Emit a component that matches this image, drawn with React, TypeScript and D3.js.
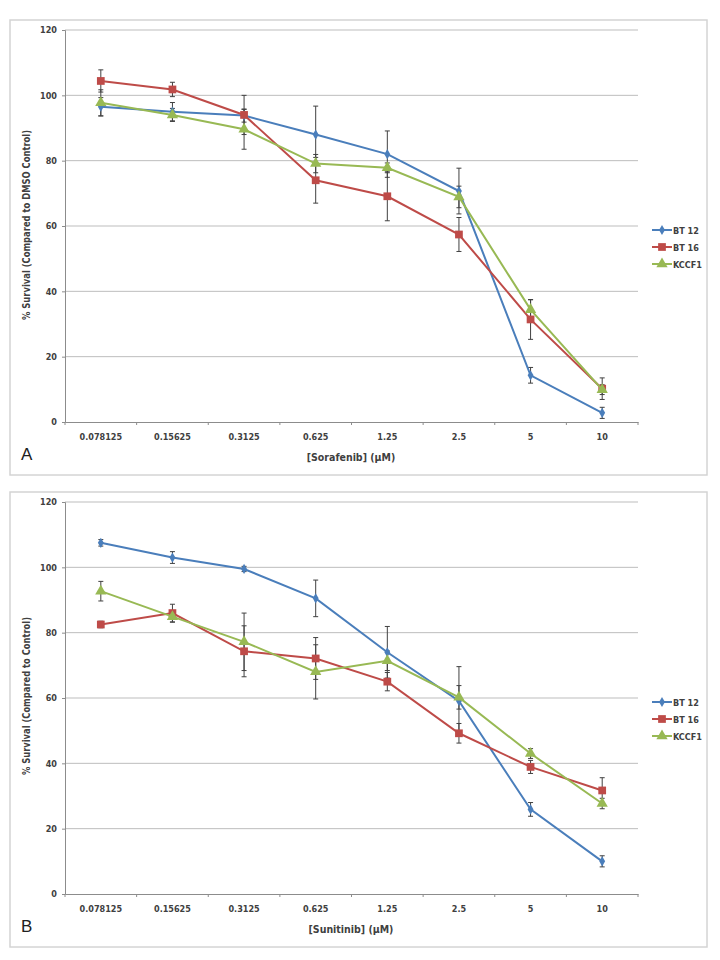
import React, { useRef, useEffect } from "react";
import * as d3 from "d3";

const doses = ["0.078125", "0.15625", "0.3125", "0.625", "1.25", "2.5", "5", "10"];
const seriesNames = ["BT 12", "BT 16", "KCCF1"];
const yTicks = [0, 20, 40, 60, 80, 100, 120];

// panel A - sorafenib
const sorafBT12 = [96.5, 95.0, 93.8, 88.0, 82.0, 70.7, 14.3, 2.8];
const sorafBT12Err = [2.8, 2.8, 2.0, 8.7, 7.1, 7.0, 2.4, 1.7];
const sorafBT16 = [104.4, 101.8, 94.0, 74.0, 69.1, 57.4, 31.4, 10.2];
const sorafBT16Err = [3.4, 2.2, 6.0, 7.0, 7.5, 5.2, 6.1, 3.3];
const sorafKCCF1 = [97.7, 94.0, 89.6, 79.1, 77.8, 68.9, 34.4, 9.9];
const sorafKCCF1Err = [4.0, 2.0, 6.1, 2.8, 1.5, 3.3, 3.0, 1.5];

// panel B - sunitinib
const sunitBT12 = [107.5, 103.0, 99.5, 90.5, 74.0, 59.1, 25.9, 10.0];
const sunitBT12Err = [1.0, 1.8, 0.8, 5.6, 7.9, 10.5, 2.1, 1.7];
const sunitBT16 = [82.5, 86.0, 74.3, 72.1, 65.0, 49.2, 38.9, 31.7];
const sunitBT16Err = [1.0, 2.7, 7.8, 6.4, 2.8, 3.0, 2.0, 3.9];
const sunitKCCF1 = [92.7, 84.9, 77.2, 68.0, 71.4, 60.2, 43.0, 27.7];
const sunitKCCF1Err = [3.0, 1.7, 8.8, 8.3, 3.0, 3.6, 1.5, 1.6];

const colors = ["#4a7ebb", "#be4b48", "#98b954"];
const font = "'Liberation Sans Narrow', 'DejaVu Sans Condensed', Arial, sans-serif";

const panels = [
  {
    letter: "A",
    top: 20,
    xTitle: "[Sorafenib] (\u00b5M)",
    yTitle: "% Survival (Compared to DMSO Control)",
    yTitleLen: 190,
    values: [sorafBT12, sorafBT16, sorafKCCF1],
    errors: [sorafBT12Err, sorafBT16Err, sorafKCCF1Err],
  },
  {
    letter: "B",
    top: 492,
    xTitle: "[Sunitinib] (\u00b5M)",
    yTitle: "% Survival (Compared to Control)",
    yTitleLen: 158,
    values: [sunitBT12, sunitBT16, sunitKCCF1],
    errors: [sunitBT12Err, sunitBT16Err, sunitKCCF1Err],
  },
];

const App = () => {
  const ref = useRef(null);

  useEffect(() => {
    const svg = d3.select(ref.current);
    svg.selectAll("*").remove();

    const symbols = [d3.symbolDiamond, d3.symbolSquare, d3.symbolTriangle];
    const symSizes = [30, 60, 55];

    panels.forEach((p) => {
      const g = svg.append("g").attr("transform", `translate(0,${p.top})`);

      // outer frame
      g.append("rect")
        .attr("x", 10).attr("y", 0)
        .attr("width", 697).attr("height", 455)
        .attr("fill", "white")
        .attr("stroke", "#d4d4d4")
        .attr("stroke-width", 1.5);

      const x = d3.scaleBand().domain(doses).range([65, 638]);
      const y = d3.scaleLinear().domain([0, 120]).range([402, 10]);

      // gridlines
      g.append("g")
        .selectAll("line")
        .data(yTicks.filter((t) => t > 0))
        .join("line")
        .attr("x1", 65).attr("x2", 638)
        .attr("y1", (d) => y(d)).attr("y2", (d) => y(d))
        .attr("stroke", "#bdbdbd").attr("stroke-width", 1);

      // y axis
      const yAxis = g.append("g")
        .attr("transform", "translate(65,0)")
        .call(d3.axisLeft(y).tickValues(yTicks).tickSize(3).tickPadding(5));
      yAxis.select(".domain").attr("stroke", "#8c8c8c");
      yAxis.selectAll(".tick line").attr("stroke", "#8c8c8c");
      yAxis.selectAll("text")
        .attr("font-family", font).attr("font-size", 9).attr("font-weight", "bold")
        .attr("fill", "#404040");

      // x axis
      const xAxis = g.append("g")
        .attr("transform", `translate(0,${y(0)})`)
        .call(d3.axisBottom(x).tickSize(0).tickPadding(12));
      xAxis.select(".domain").attr("stroke", "#8c8c8c");
      xAxis.selectAll("text")
        .attr("font-family", font).attr("font-size", 9).attr("font-weight", "bold")
        .attr("fill", "#404040");
      // tick marks between categories
      const bounds = doses.map((d) => x(d)).concat([638]);
      g.append("g")
        .selectAll("line")
        .data(bounds)
        .join("line")
        .attr("x1", (d) => d).attr("x2", (d) => d)
        .attr("y1", y(0)).attr("y2", y(0) + 3)
        .attr("stroke", "#8c8c8c");

      const cx = (d) => x(d) + x.bandwidth() / 2;

      // error bars
      p.values.forEach((vals, si) => {
        const eg = g.append("g");
        vals.forEach((v, i) => {
          const e = p.errors[si][i];
          const xc = cx(doses[i]);
          eg.append("line")
            .attr("x1", xc).attr("x2", xc)
            .attr("y1", y(v + e)).attr("y2", y(v - e))
            .attr("stroke", "#404040").attr("stroke-width", 1);
          [v + e, v - e].forEach((c) => {
            eg.append("line")
              .attr("x1", xc - 2.5).attr("x2", xc + 2.5)
              .attr("y1", y(c)).attr("y2", y(c))
              .attr("stroke", "#404040").attr("stroke-width", 1);
          });
        });
      });

      // lines and markers
      const line = d3.line()
        .x((d, i) => cx(doses[i]))
        .y((d) => y(d));
      p.values.forEach((vals, si) => {
        g.append("path")
          .datum(vals)
          .attr("fill", "none")
          .attr("stroke", colors[si])
          .attr("stroke-width", 2)
          .attr("d", line);
        g.append("g")
          .selectAll("path")
          .data(vals)
          .join("path")
          .attr("transform", (d, i) => `translate(${cx(doses[i])},${y(d)})`)
          .attr("d", d3.symbol().type(symbols[si]).size(symSizes[si]))
          .attr("fill", colors[si]);
      });

      // legend
      const lg = g.append("g").attr("transform", "translate(652,210)");
      seriesNames.forEach((name, si) => {
        const row = lg.append("g").attr("transform", `translate(0,${si * 17})`);
        row.append("line")
          .attr("x1", 0).attr("x2", 20).attr("y1", 0).attr("y2", 0)
          .attr("stroke", colors[si]).attr("stroke-width", 2);
        row.append("path")
          .attr("transform", "translate(10,0)")
          .attr("d", d3.symbol().type(symbols[si]).size(symSizes[si]))
          .attr("fill", colors[si]);
        row.append("text")
          .attr("x", 21).attr("y", 3.5)
          .attr("font-family", font).attr("font-size", 9).attr("font-weight", "bold")
          .attr("fill", "#404040")
          .text(name);
      });

      // axis titles
      g.append("text")
        .attr("x", 351).attr("y", 441)
        .attr("text-anchor", "middle")
        .attr("font-family", font).attr("font-size", 10.5).attr("font-weight", "bold")
        .attr("fill", "#404040")
        .text(p.xTitle);
      g.append("text")
        .attr("transform", `translate(30,${p.letter === "A" ? 205 : 204}) rotate(-90)`)
        .attr("text-anchor", "middle")
        .attr("font-family", font).attr("font-size", 11).attr("font-weight", "bold")
        .attr("textLength", p.yTitleLen)
        .attr("lengthAdjust", "spacingAndGlyphs")
        .attr("fill", "#404040")
        .text(p.yTitle);

      // panel letter
      g.append("text")
        .attr("x", 21).attr("y", 440)
        .attr("font-family", "'Liberation Sans', Arial, sans-serif")
        .attr("font-size", 17)
        .attr("fill", "#202020")
        .text(p.letter);
    });
  }, []);

  return (
    <svg
      ref={ref}
      width={720}
      height={960}
      style={{ position: "absolute", left: 0, top: 0, background: "white" }}
    />
  );
};

export default App;
